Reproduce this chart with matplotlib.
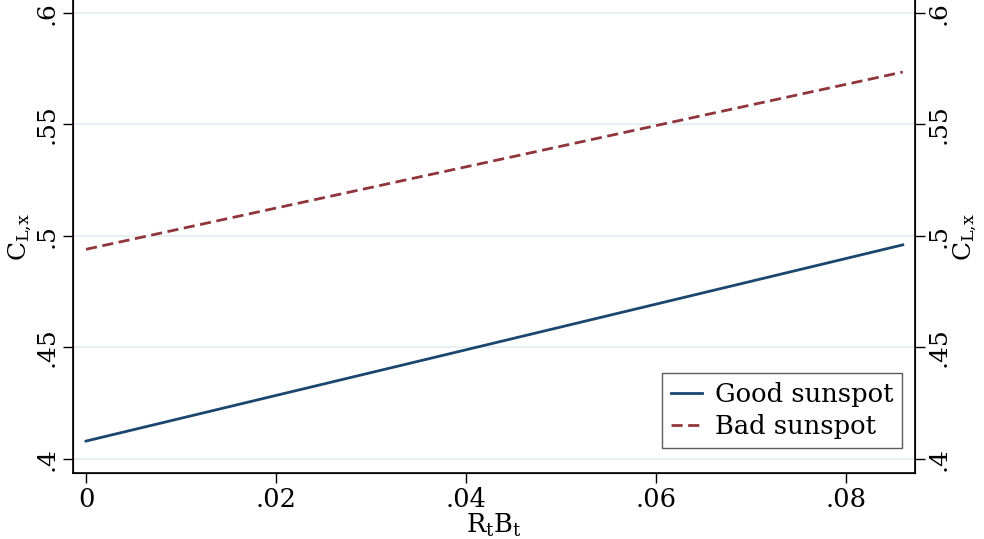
import matplotlib
matplotlib.use("Agg")
from matplotlib import pyplot as plt
import numpy as np

# values
rb = [0.0, 0.086]
good = [0.408, 0.496]
bad = [0.494, 0.5735]
yticks = [0.4, 0.45, 0.5, 0.55, 0.6]
ylabels = [".4", ".45", ".5", ".55", ".6"]
xticks = [0.0, 0.02, 0.04, 0.06, 0.08]
xlabels = ["0", ".02", ".04", ".06", ".08"]

plt.rcParams["font.family"] = ["DejaVu Serif"]
plt.rcParams["mathtext.fontset"] = "dejavuserif"

fig = plt.figure(figsize=(9.84, 5.39), dpi=100)
ax = fig.add_axes([0.0742, 0.1225, 0.8558, 0.8775])

ax.plot(rb, good, color="#1a476f", lw=2.0, label="Good sunspot")
ax.plot(rb, bad, color="#90353b", lw=2.0, ls=(0, (4, 2)), label="Bad sunspot")

ax.set_xlim(-0.00137, 0.0873)
ax.set_ylim(0.3937, 0.6058)
ax.set_yticks(yticks)
ax.set_yticklabels(ylabels, rotation=90, va="center", fontsize=18)
ax.set_xticks(xticks)
ax.set_xticklabels(xlabels, fontsize=18.5)
ax.tick_params(length=7, width=1, pad=3)
ax.grid(axis="y", color="#e6eff1", lw=1.5)
ax.set_axisbelow(True)
ax.spines["top"].set_visible(False)
for s in ["left", "right", "bottom"]:
    ax.spines[s].set_linewidth(1.2)

ax.set_xlabel(r"$\mathrm{R_tB_t}$", fontsize=18.5, labelpad=0)
ax.set_ylabel(r"$\mathrm{C_{L{,}x}}$", fontsize=18)
ax.yaxis.set_label_coords(-0.046, 0.5)

ax2 = ax.twinx()
ax2.set_ylim(ax.get_ylim())
ax2.set_yticks(yticks)
ax2.set_yticklabels(ylabels, rotation=90, va="center", fontsize=18)
ax2.tick_params(length=7, width=1, pad=2)
ax2.spines["top"].set_visible(False)
ax2.set_ylabel(r"$\mathrm{C_{L{,}x}}$", fontsize=18)
ax2.yaxis.set_label_coords(1.043, 0.5)

leg = ax.legend(loc="lower right", fontsize=18.5, frameon=True, fancybox=False,
                handlelength=1.2, handletextpad=0.5, borderpad=0.35,
                labelspacing=0.25, borderaxespad=0,
                bbox_to_anchor=(0.9846, 0.053))
leg.get_frame().set_edgecolor("#333333")
leg.get_frame().set_linewidth(1.0)

fig.savefig("out.png", dpi=100)
